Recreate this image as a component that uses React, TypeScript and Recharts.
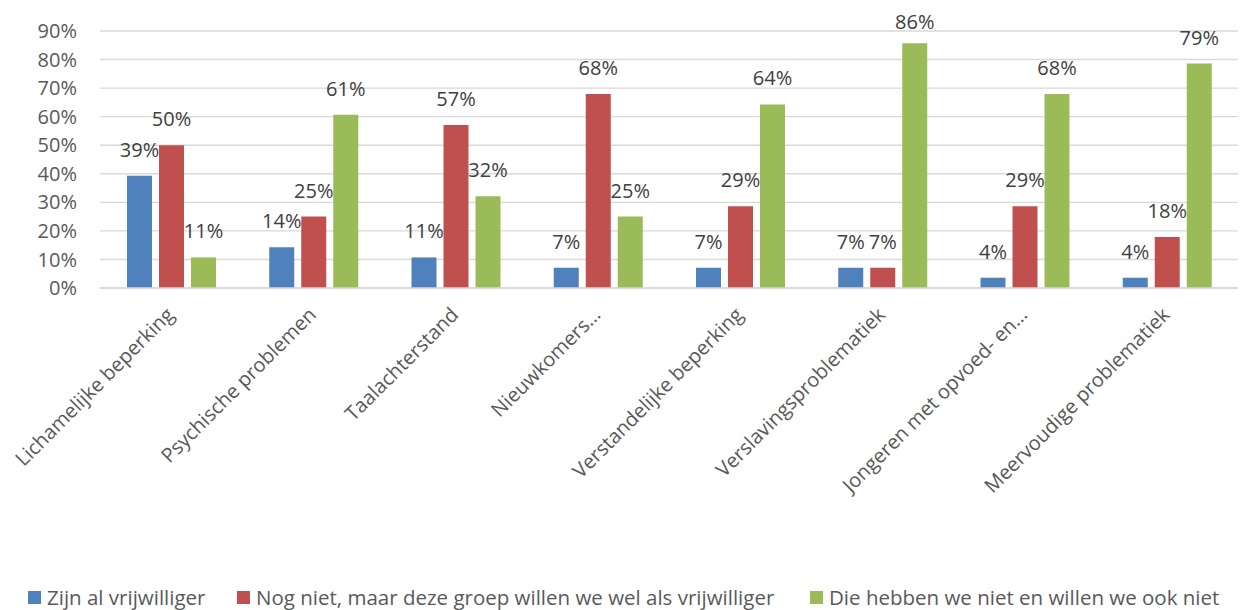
import { BarChart, Bar, XAxis, YAxis, CartesianGrid, Legend, LabelList } from "recharts";

const categories = [
  "Lichamelijke beperking",
  "Psychische problemen",
  "Taalachterstand",
  "Nieuwkomers…",
  "Verstandelijke beperking",
  "Verslavingsproblematiek",
  "Jongeren met opvoed- en…",
  "Meervoudige problematiek",
];

// shares (0..1)
const alVrijwilliger = [0.393, 0.143, 0.107, 0.071, 0.071, 0.071, 0.036, 0.036];
const nogNiet = [0.5, 0.25, 0.571, 0.679, 0.286, 0.071, 0.286, 0.179];
const nietEnNiet = [0.107, 0.607, 0.321, 0.25, 0.643, 0.857, 0.679, 0.786];

const yTicks = [0, 0.1, 0.2, 0.3, 0.4, 0.5, 0.6, 0.7, 0.8, 0.9];

const seriesNames = [
  "Zijn al vrijwilliger",
  "Nog niet, maar deze groep willen we wel als vrijwilliger",
  "Die hebben we niet en willen we ook niet",
];

const COLORS = ["#4F81BD", "#C0504D", "#9BBB59"];
const FONT = "'Open Sans', sans-serif";

const data = categories.map((name, i) => ({
  name,
  a: alVrijwilliger[i],
  b: nogNiet[i],
  c: nietEnNiet[i],
}));

const pct = (v: number) => `${Math.round(v * 100)}%`;

const CategoryTick = ({ x, y, payload }: any) => (
  <text
    x={x + 4}
    y={y + 20}
    transform={`rotate(-45, ${x + 4}, ${y + 20})`}
    textAnchor="end"
    fontSize={20}
    fontFamily={FONT}
    fill="#595959"
  >
    {payload.value}
  </text>
);

const TopLabel = (props: any) => {
  const { x, y, width, value } = props;
  const baseY = Math.max(y - 19, 29);
  return (
    <text x={x + width / 2} y={baseY} textAnchor="middle" fontSize={20} fontFamily={FONT} fill="#404040">
      {pct(value)}
    </text>
  );
};

const legendX = [28, 237, 810];

const LegendContent = () => (
  <div
    style={{
      position: "relative",
      width: 1253,
      height: 20,
      fontFamily: FONT,
      fontSize: 20.5,
      lineHeight: "20px",
      color: "#595959",
    }}
  >
    {seriesNames.map((n, i) => (
      <div
        key={n}
        style={{ position: "absolute", left: legendX[i], top: 0, height: 20, display: "flex", alignItems: "center", whiteSpace: "nowrap" }}
      >
        <span style={{ display: "inline-block", width: 13, height: 13, background: COLORS[i], marginRight: 6 }} />
        {n}
      </div>
    ))}
  </div>
);

export default function App() {
  return (
    <div style={{ position: "absolute", left: 0, top: 0, width: 1253, height: 610, background: "#fff" }}>
      <BarChart
        width={1253}
        height={610}
        data={data}
        margin={{ top: 31, right: 15, bottom: 0, left: 0 }}
        barCategoryGap={27}
        barGap={7}
      >
        <CartesianGrid vertical={false} stroke="#D9D9D9" strokeWidth={1.4} />
        <XAxis
          dataKey="name"
          height={322}
          interval={0}
          tickLine={false}
          axisLine={{ stroke: "#D9D9D9", strokeWidth: 1.4 }}
          tick={<CategoryTick />}
        />
        <YAxis
          width={100}
          domain={[0, 0.9]}
          ticks={yTicks}
          tickFormatter={pct}
          axisLine={false}
          tickLine={false}
          tickSize={0}
          tickMargin={23}
          tick={{ fontSize: 20, fontFamily: FONT, fill: "#595959" }}
        />
        <Legend
          layout="horizontal"
          verticalAlign="middle"
          wrapperStyle={{ top: 587, left: 0 }}
          content={<LegendContent />}
        />
        {(["a", "b", "c"] as const).map((k, i) => (
          <Bar key={k} dataKey={k} name={seriesNames[i]} fill={COLORS[i]} isAnimationActive={false}>
            <LabelList dataKey={k} content={<TopLabel />} />
          </Bar>
        ))}
      </BarChart>
    </div>
  );
}
